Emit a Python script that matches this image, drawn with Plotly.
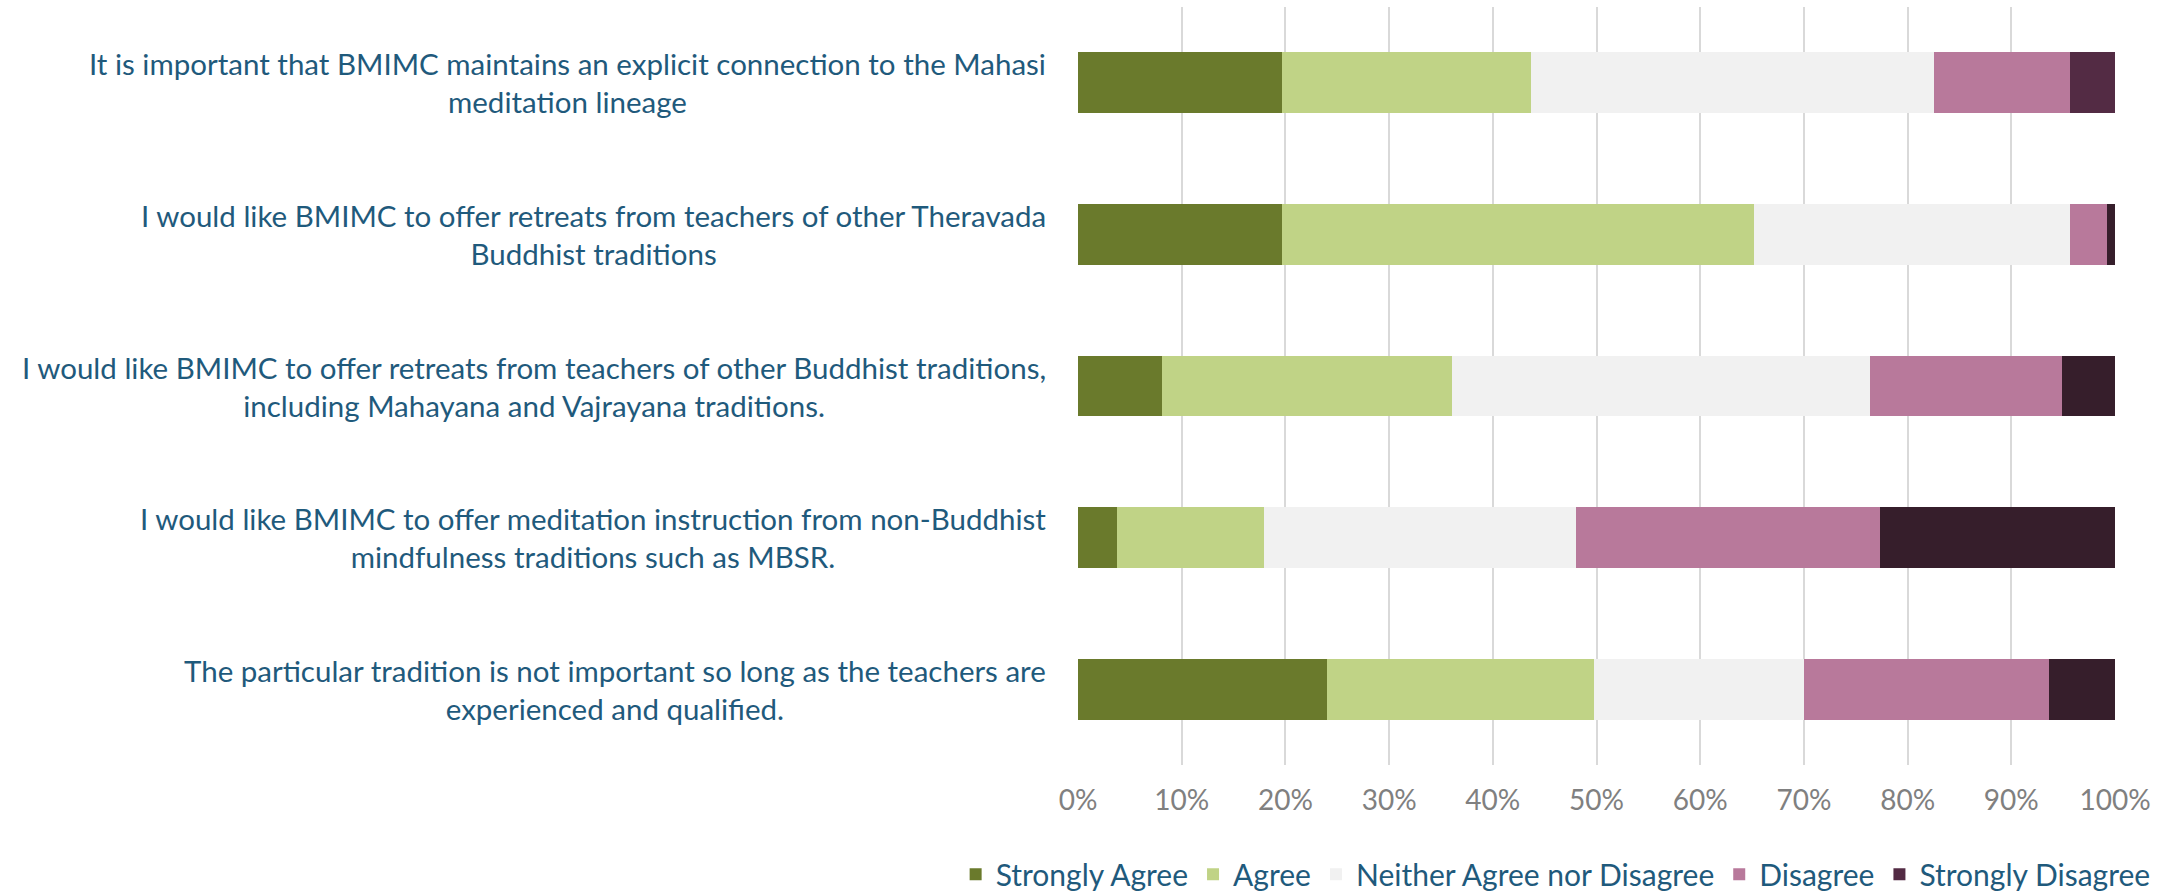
import plotly.graph_objects as go

categories = [
    "It is important that BMIMC maintains an explicit connection to the Mahasi<br>meditation lineage",
    "I would like BMIMC to offer retreats from teachers of other Theravada<br>Buddhist traditions",
    "I would like BMIMC to offer retreats from teachers of other Buddhist traditions,<br>including Mahayana and Vajrayana traditions.",
    "I would like BMIMC to offer meditation instruction from non-Buddhist<br>mindfulness traditions such as MBSR.",
    "The particular tradition is not important so long as the teachers are<br>experienced and qualified.",
]
cat_ids = ["q1", "q2", "q3", "q4", "q5"]

strongly_agree = [19.7, 19.7, 8.1, 3.8, 24.0]
agree = [24.0, 45.5, 28.0, 14.1, 25.8]
neither = [38.8, 30.5, 40.3, 30.1, 20.2]
disagree = [13.2, 3.5, 18.5, 29.3, 23.6]
strongly_disagree = [4.3, 0.8, 5.1, 22.7, 6.4]

series_names = ["Strongly Agree", "Agree", "Neither Agree nor Disagree", "Disagree", "Strongly Disagree"]
series_values = [strongly_agree, agree, neither, disagree, strongly_disagree]
colors = ["#6a7a2c", "#c0d386", "#f1f1f1", "#b8799b", ["#532b44", "#361e2b", "#361e2b", "#361e2b", "#361e2b"]]

tick_vals = [0, 10, 20, 30, 40, 50, 60, 70, 80, 90, 100]
tick_text = [f"{v}%" for v in tick_vals]

FONT = "Lato"
TEXT_COLOR = "#1f5a7c"

fig = go.Figure()
for name, vals, col in zip(series_names, series_values, colors):
    fig.add_trace(go.Bar(
        y=cat_ids, x=vals, name=name, orientation="h",
        marker=dict(color=col, line=dict(width=0)),
    ))

for cid, label in zip(cat_ids, categories):
    fig.add_annotation(
        x=0, xref="paper", xanchor="right", xshift=-30,
        y=cid, yref="y", yanchor="middle",
        text=label, showarrow=False, align="center",
        font=dict(family=FONT, size=29.5, color=TEXT_COLOR),
    )

fig.update_layout(
    barmode="stack",
    bargap=0.6,
    width=2179, height=893,
    margin=dict(l=1078, r=64, t=7, b=128, autoexpand=False),
    paper_bgcolor="white", plot_bgcolor="white",
    xaxis=dict(
        range=[0, 100], tickvals=tick_vals, ticktext=tick_text,
        showgrid=True, gridcolor="#d9d9d9", gridwidth=1.5,
        zeroline=False, showline=False,
        tickfont=dict(family=FONT, size=28, color="#808080"),
        ticks="", ticklen=0, ticklabelstandoff=16,
    ),
    yaxis=dict(
        categoryorder="array", categoryarray=cat_ids,
        autorange="reversed", showticklabels=False,
        showgrid=False, zeroline=False, showline=False,
    ),
    legend=dict(
        orientation="h", x=-0.118, xanchor="left",
        y=-0.144, yanchor="middle",
        font=dict(family=FONT, size=30, color=TEXT_COLOR),
        traceorder="normal", itemwidth=30,
    ),
    showlegend=True,
)

fig.write_html("out.html", config={"displayModeBar": False},
               post_script="document.body.style.margin='0';")
